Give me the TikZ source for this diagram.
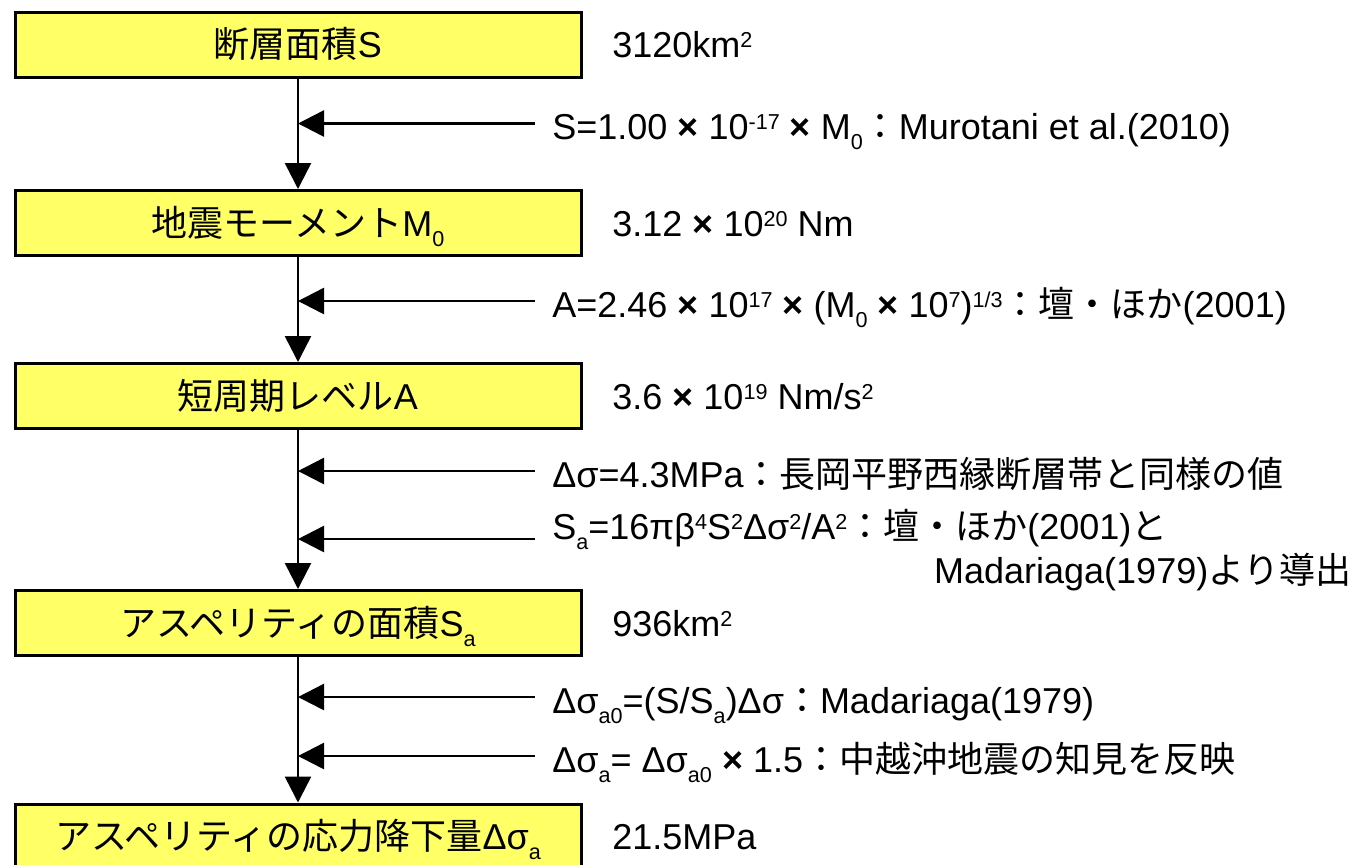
\documentclass[tikz,border=0pt]{standalone}
\usepackage{fontspec}
\setmainfont{Liberation Sans}
\newfontfamily\jp{Noto Sans CJK JP}
\usetikzlibrary{arrows.meta}
\definecolor{boxyellow}{RGB}{255,255,102}
\newcommand{\upidx}[1]{\raisebox{0.5ex}{\scalebox{0.6}{#1}}}
\newcommand{\lowidx}[1]{\raisebox{-0.55ex}{\scalebox{0.6}{#1}}}
\newcommand{\mul}{ \textbf{×} }

\begin{document}
\begin{tikzpicture}[x=0.5pt,y=-0.5pt]
        \tikzstyle{every node}=[font=\fontsize{18}{22}\selectfont, text height=15pt, text depth=2pt]
        \tikzstyle{block}=[draw, line width=1.5pt, fill=boxyellow, minimum width=283pt, minimum height=32.5pt, inner sep=0pt]
        \tikzstyle{val}=[anchor=west, inner sep=0pt]
        \tikzstyle{eq}=[anchor=west, inner xsep=8.5pt, inner ysep=0pt, text height=17pt, text depth=1pt]
        \tikzstyle{arr}=[line width=1.25pt, -{Triangle[length=13pt,width=13pt]}]

        \useasboundingbox (0,0) rectangle (1359,864);

        \node[block](b1)at(298,44.5){{\jp 断層面積}S};
        \node[block](b2)at(298,223){{\jp 地震モーメント}M\lowidx{0}};
        \node[block](b3)at(298,396){{\jp 短周期レベル}A};
        \node[block](b4)at(298,623){{\jp アスペリティの面積}S\lowidx{a}};
        \node[block](b5)at(298,836.5){{\jp アスペリティの応力降下量}Δσ\lowidx{a}};

        \node[val](v1)at(612,44.5){3120km\upidx{2}};
        \node[val](v2)at(612,223){3.12\mul 10\upidx{20} Nm};
        \node[val](v3)at(612,396){3.6\mul 10\upidx{19} Nm/s\upidx{2}};
        \node[val](v4)at(612,623){936km\upidx{2}};
        \node[val](v5)at(612,836.5){21.5MPa};

        \node[eq](f1)at(535,123.5){S=1.00\mul 10\upidx{-17}\mul M\lowidx{0}{\jp ：}Murotani et al.(2010)};
        \node[eq](f2)at(535,301){A=2.46\mul 10\upidx{17}\mul (M\lowidx{0}\mul 10\upidx{7})\upidx{1/3}{\jp ：壇・ほか}(2001)};
        \node[eq](f3)at(535,471){Δσ=4.3MPa{\jp ：長岡平野西縁断層帯と同様の値}};
        \node[eq, anchor=base west](f4)at(535,539){S\lowidx{a}=16πβ\upidx{4}S\upidx{2}Δσ\upidx{2}/A\upidx{2}{\jp ：壇・ほか}(2001){\jp と}};
        \node[val, anchor=base east](f4b)at(1352,583){Madariaga(1979){\jp より導出}};
        \node[eq](f5)at(535,697){Δσ\lowidx{a0}=(S/S\lowidx{a})Δσ{\jp ：}Madariaga(1979)};
        \node[eq](f6)at(535,756){Δσ\lowidx{a}= Δσ\lowidx{a0}\mul 1.5{\jp ：中越沖地震の知見を反映}};

        \draw[arr] (b1) -- (b2);
        \draw[arr] (b2) -- (b3);
        \draw[arr] (b3) -- (b4);
        \draw[arr] (b4) -- (b5);

        \draw[arr] (f1.west) -- (f1.west -| b1.south);
        \draw[arr] (f2.west) -- (f2.west -| b2.south);
        \draw[arr] (f3.west) -- (f3.west -| b3.south);
        \draw[arr] (f4.base west) -- (f4.base west -| b3.south);
        \draw[arr] (f5.west) -- (f5.west -| b4.south);
        \draw[arr] (f6.west) -- (f6.west -| b4.south);
    \end{tikzpicture}
\end{document}
